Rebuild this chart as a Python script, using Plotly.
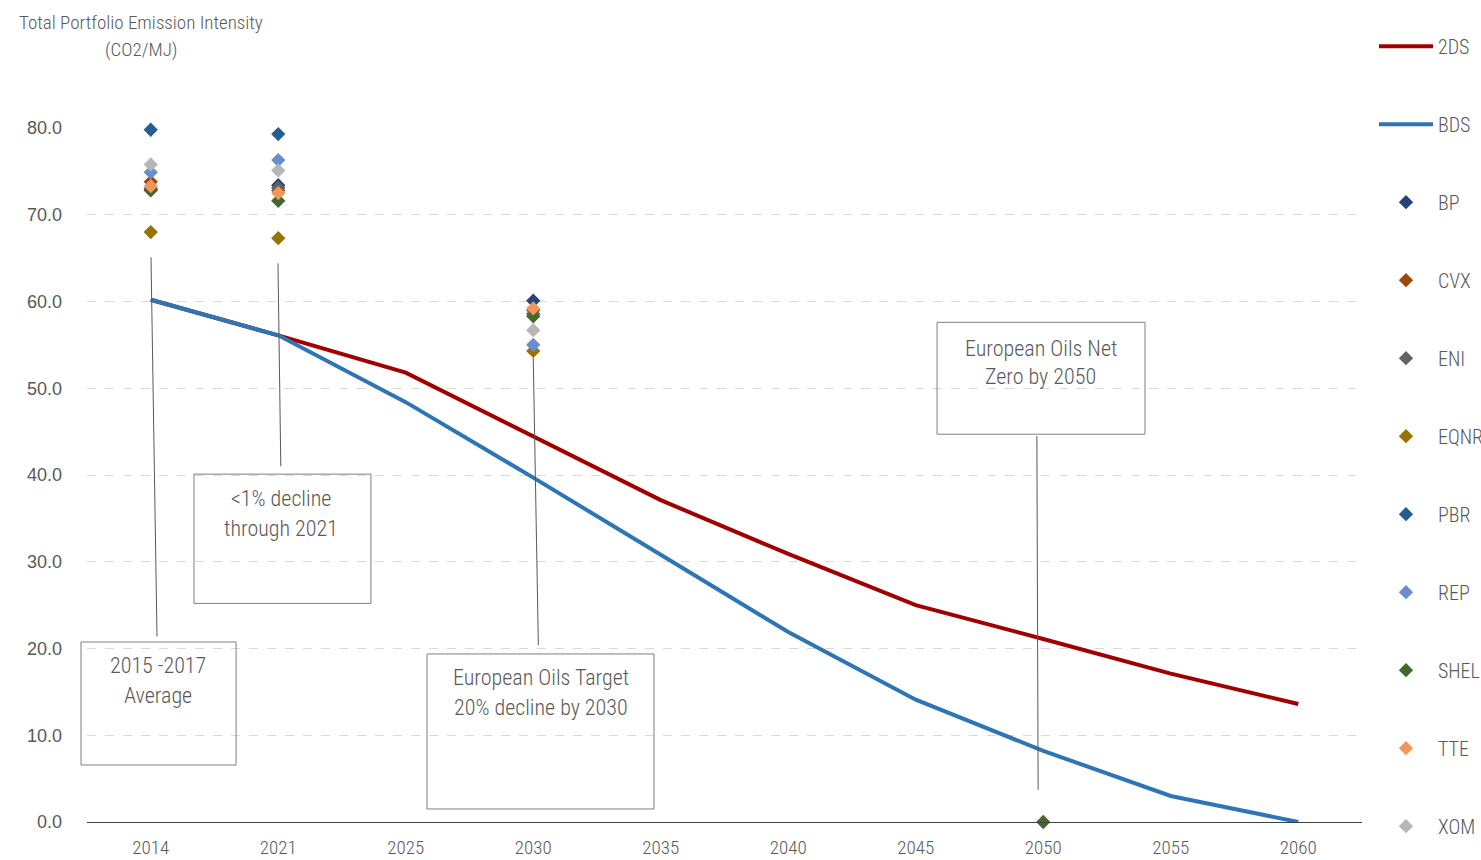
import plotly.graph_objects as go

# Scenario years (category axis)
years = ["2014", "2021", "2025", "2030", "2035", "2040", "2045", "2050", "2055", "2060"]

# Scenario pathways (CO2/MJ)
pathway_2ds = [60.2, 56.1, 51.8, 44.4, 37.1, 30.9, 25.0, 21.1, 17.1, 13.6]
pathway_bds = [60.2, 56.1, 48.4, 39.7, 30.8, 21.9, 14.1, 8.2, 3.0, 0.0]

# Company portfolio intensities (CO2/MJ); None where no value
bp   = [73.0, 73.4, None, 60.1, None, None, None, None, None, None]
cvx  = [73.8, 72.8, None, 59.0, None, None, None, None, None, None]
eni  = [72.9, 73.1, None, 58.6, None, None, None, None, None, None]
eqnr = [68.0, 67.3, None, 54.3, None, None, None, None, None, None]
pbr  = [79.8, 79.3, None, None, None, None, None, None, None, None]
rep  = [74.9, 76.3, None, 55.0, None, None, None, None, None, None]
shel = [72.8, 71.6, None, 58.3, None, None, None, 0.0, None, None]
tte  = [73.3, 72.5, None, 59.2, None, None, None, None, None, None]
xom  = [75.8, 75.1, None, 56.7, None, None, None, None, None, None]

companies = [
    ("BP", bp, "#264478"),
    ("CVX", cvx, "#9E480E"),
    ("ENI", eni, "#636363"),
    ("EQNR", eqnr, "#997300"),
    ("PBR", pbr, "#255E91"),
    ("REP", rep, "#698ED0"),
    ("SHEL", shel, "#43682B"),
    ("TTE", tte, "#F1975A"),
    ("XOM", xom, "#B7B7B7"),
]

NARROW = "Roboto Condensed, Liberation Sans Narrow, DejaVu Sans Condensed, Arial Narrow, sans-serif"
TEXT_GREY = "#595959"
Y_MAX = 80
N_CAT = len(years)

fig = go.Figure()

fig.add_trace(go.Scatter(
    x=years, y=pathway_2ds, name="2DS", mode="lines",
    line=dict(color="#A00000", width=4), legendgroup="2DS", cliponaxis=False,
))
fig.add_trace(go.Scatter(
    x=years, y=pathway_bds, name="BDS", mode="lines",
    line=dict(color="#2E75B6", width=4), legendgroup="BDS", cliponaxis=False,
))

for name, vals, color in companies:
    fig.add_trace(go.Scatter(
        x=years, y=vals, name=name, mode="markers",
        marker=dict(symbol="diamond", size=11, color=color),
        legendgroup=name, cliponaxis=False,
    ))


def px(idx):
    """Category index -> paper x (axis spans -0.5 .. N_CAT-0.5)."""
    return (idx + 0.5) / N_CAT


def py(val):
    """Data value -> paper y."""
    return val / Y_MAX


# Callout boxes with leader lines (x in category index units, y in data units)
callouts = [
    dict(lines=["2015 -2017", "Average"], box=(-0.547, 6.57, 0.669, 20.75),
         lead=((0.002, 65.1), (0.049, 21.4)), tx=0.057, ty=(18.0, 14.55)),
    dict(lines=["<1% decline", "through 2021"], box=(0.339, 25.2, 1.727, 40.1),
         lead=((0.998, 64.4), (1.02, 41.0)), tx=1.02, ty=(37.3, 33.85)),
    dict(lines=["European Oils Target", "20% decline by 2030"], box=(2.167, 1.5, 3.947, 19.37),
         lead=((3.0, 53.5), (3.04, 20.4)), tx=3.057, ty=(16.6, 13.15)),
    dict(lines=["European Oils Net", "Zero by 2050"], box=(6.167, 44.7, 7.798, 57.6),
         lead=((6.95, 44.5), (6.96, 3.7)), tx=6.98, ty=(54.6, 51.3)),
]

shapes = []
annotations = []
for c in callouts:
    x0, y0, x1, y1 = c["box"]
    shapes.append(dict(type="rect", xref="paper", yref="paper",
                       x0=px(x0), y0=py(y0), x1=px(x1), y1=py(y1),
                       line=dict(color="#7F7F7F", width=1), fillcolor="rgba(0,0,0,0)", layer="above"))
    (lx0, ly0), (lx1, ly1) = c["lead"]
    shapes.append(dict(type="line", xref="paper", yref="paper",
                       x0=px(lx0), y0=py(ly0), x1=px(lx1), y1=py(ly1),
                       line=dict(color="#595959", width=1), layer="above"))
    for line_text, ty in zip(c["lines"], c["ty"]):
        annotations.append(dict(xref="paper", yref="paper", x=px(c["tx"]), y=py(ty), text=line_text,
                                showarrow=False, xanchor="center", yanchor="middle",
                                font=dict(family=NARROW, size=22, color=TEXT_GREY, weight=300)))

# Axis title, two lines above the value axis
for title_line, ty in [("Total Portfolio Emission Intensity", 1.1513), ("(CO2/MJ)", 1.1124)]:
    annotations.append(dict(
        xref="paper", yref="paper", x=0.0424, y=ty, text=title_line, showarrow=False,
        xanchor="center", yanchor="middle",
        font=dict(family=NARROW, size=19, color=TEXT_GREY, weight=300),
    ))

fig.update_layout(
    width=1481, height=860,
    margin=dict(l=87, r=119, t=128, b=38, autoexpand=False),
    paper_bgcolor="white", plot_bgcolor="white",
    showlegend=True,
    legend=dict(
        x=1.0094, xanchor="left", y=1.146, yanchor="top",
        font=dict(family=NARROW, size=20, color=TEXT_GREY, weight=300),
        tracegroupgap=49, itemwidth=54, borderwidth=0, maxheight=900,
        bgcolor="rgba(0,0,0,0)",
    ),
    shapes=shapes,
    annotations=annotations,
)

fig.update_xaxes(
    type="category", range=[-0.5, N_CAT - 0.5], showgrid=False, showline=True,
    linecolor="#404040", linewidth=1, ticks="", ticklabelstandoff=8,
    tickfont=dict(family=NARROW, size=19, color=TEXT_GREY, weight=300), zeroline=False,
)
fig.update_yaxes(
    range=[0, Y_MAX], dtick=10, tickformat=".1f",
    showgrid=True, gridcolor="#D9D9D9", griddash="dash", gridwidth=1,
    zeroline=False, showline=False, ticks="", ticklabelstandoff=24,
    tickfont=dict(family="Liberation Sans, Arial, sans-serif", size=18, color=TEXT_GREY),
)

fig.write_html("out.html")
